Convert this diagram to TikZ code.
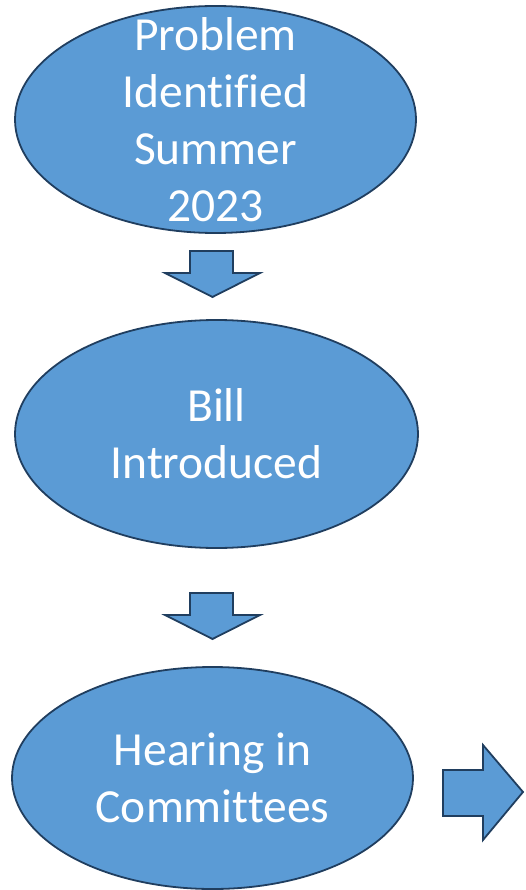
\documentclass[tikz,border=0pt]{standalone}
\usepackage{fontspec}
\setmainfont[Ligatures=NoCommon]{Carlito}
\usetikzlibrary{shapes.geometric}

\definecolor{stagefill}{HTML}{5B9BD5}
\definecolor{stageline}{HTML}{203E5F}

\tikzset{
  stage/.style={ellipse, draw=stageline, fill=stagefill, line width=1.8pt, inner sep=0pt},
  stagetext/.style={text=white, align=center, inner sep=0pt, font=\fontsize{47.5}{57}\selectfont},
  blockarrow/.style={draw=stageline, fill=stagefill, line width=1.8pt, line join=miter}
}

\begin{document}
\begin{tikzpicture}[x=1pt,y=-1pt]
\useasboundingbox (0,0) rectangle (525,890);

% The three stages
\node[stage, minimum width=401, minimum height=227] (problem) at (215.5,119.5) {};
\node[stagetext] (problemtext) at (problem.center) {Problem\\Identified\\Summer\\2023};

\node[stage, minimum width=403, minimum height=228] (bill) at (216.5,434) {};
\node[stagetext] (billtext) at (bill.center) {Bill\\Introduced};

\node[stage, minimum width=401, minimum height=222] (hearing) at (212.5,778) {};
\node[stagetext] (hearingtext) at (hearing.center) {Hearing in\\Committees};

% Down arrows between stages
\foreach \t in {251,593} {
  \draw[blockarrow] (190,\t) -- (233,\t) -- (233,\t+22) -- (260,\t+22)
    -- (212.5,\t+46) -- (165,\t+22) -- (190,\t+22) -- cycle;
}

% Arrow on to the next step
\draw[blockarrow] (443,770) -- (483,770) -- (483,745) -- (523,792)
  -- (483,840) -- (483,816) -- (443,816) -- cycle;
\end{tikzpicture}
\end{document}
